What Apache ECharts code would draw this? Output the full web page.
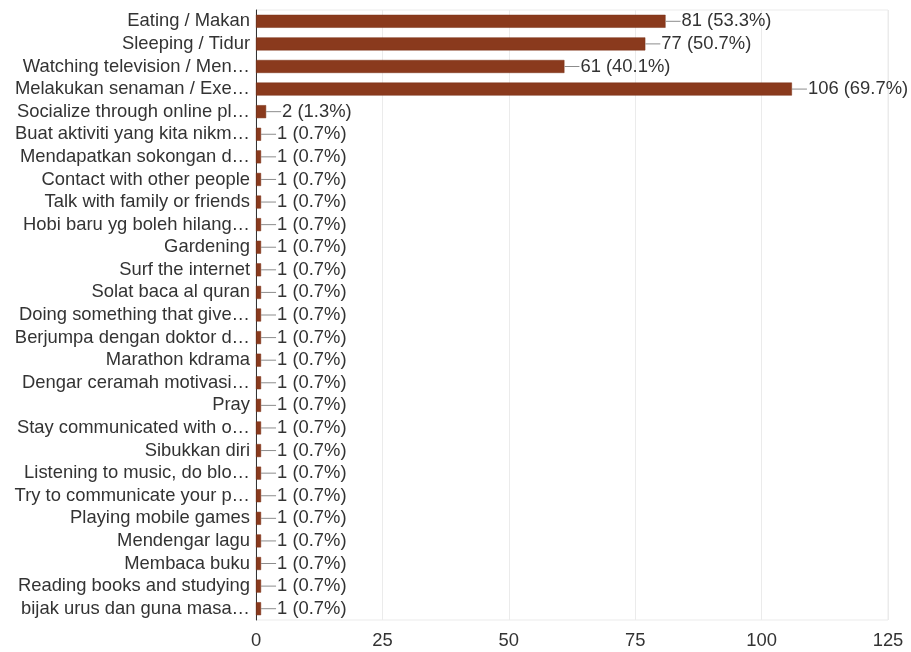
<!DOCTYPE html>
<html>
<head>
<meta charset="utf-8">
<script src="https://cdn.jsdelivr.net/npm/echarts@6/dist/echarts.min.js"></script>
<style>
html,body{margin:0;padding:0;background:#fff;}
#chart{width:911px;height:652px;}
</style>
</head>
<body>
<div id="chart"></div>
<script>
const categories = [
  "Eating / Makan",
  "Sleeping / Tidur",
  "Watching television / Men\u2026",
  "Melakukan senaman / Exe\u2026",
  "Socialize through online pl\u2026",
  "Buat aktiviti yang kita nikm\u2026",
  "Mendapatkan sokongan d\u2026",
  "Contact with other people",
  "Talk with family or friends",
  "Hobi baru yg boleh hilang\u2026",
  "Gardening",
  "Surf the internet",
  "Solat baca al quran",
  "Doing something that give\u2026",
  "Berjumpa dengan doktor d\u2026",
  "Marathon kdrama",
  "Dengar ceramah motivasi\u2026",
  "Pray",
  "Stay communicated with o\u2026",
  "Sibukkan diri",
  "Listening to music, do blo\u2026",
  "Try to communicate your p\u2026",
  "Playing mobile games",
  "Mendengar lagu",
  "Membaca buku",
  "Reading books and studying",
  "bijak urus dan guna masa\u2026"
];
const counts = [81, 77, 61, 106, 2, 1, 1, 1, 1, 1, 1, 1, 1, 1, 1, 1, 1, 1, 1, 1, 1, 1, 1, 1, 1, 1, 1];
const percents = ["53.3%", "50.7%", "40.1%", "69.7%", "1.3%", "0.7%", "0.7%", "0.7%", "0.7%", "0.7%", "0.7%", "0.7%", "0.7%", "0.7%", "0.7%", "0.7%", "0.7%", "0.7%", "0.7%", "0.7%", "0.7%", "0.7%", "0.7%", "0.7%", "0.7%", "0.7%", "0.7%"];
const xTicks = [0, 25, 50, 75, 100, 125];

const FONT = "'Liberation Sans', Arial, sans-serif";
const FS = 18.4;
const chart = echarts.init(document.getElementById('chart'), null, {renderer: 'canvas'});
chart.setOption({
  animation: false,
  backgroundColor: '#ffffff',
  grid: {
    left: 256, right: 23, top: 10, bottom: 32,
    show: true, borderColor: '#ebebeb', borderWidth: 1, containLabel: false
  },
  xAxis: {
    type: 'value',
    min: xTicks[0], max: xTicks[xTicks.length - 1], interval: 25,
    axisLine: {show: false},
    axisTick: {show: false},
    splitLine: {show: true, lineStyle: {color: '#ebebeb', width: 1}},
    axisLabel: {color: '#333', fontFamily: FONT, fontSize: FS, margin: 12}
  },
  yAxis: {
    type: 'category',
    inverse: true,
    data: categories,
    axisLine: {show: true, lineStyle: {color: '#333', width: 1}},
    axisTick: {show: false},
    splitLine: {show: false},
    axisLabel: {color: '#333', fontFamily: FONT, fontSize: FS, margin: 6, interval: 0}
  },
  series: [{
    type: 'bar',
    data: counts,
    barWidth: 13,
    itemStyle: {color: '#8a3a1d', borderColor: '#7a3318', borderWidth: 0.5},
    label: {
      show: true,
      position: 'right',
      distance: 0,
      formatter: p => '{l|}{t|' + counts[p.dataIndex] + ' (' + percents[p.dataIndex] + ')}',
      rich: {
        l: {width: 15, height: 1, backgroundColor: '#8c8c8c', verticalAlign: 'middle'},
        t: {color: '#333', fontFamily: FONT, fontSize: FS, padding: [0, 0, 0, 1], verticalAlign: 'middle'}
      }
    }
  }]
});
</script>
</body>
</html>
